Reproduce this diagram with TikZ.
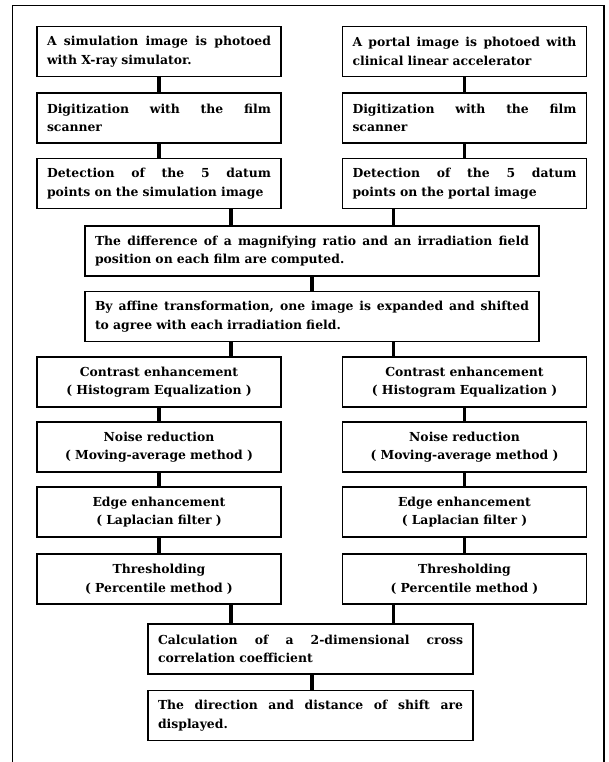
\documentclass[tikz,border=0pt]{standalone}
\usepackage{fontspec}
\setmainfont{DejaVu Serif}
\newcommand{\jl}[2][224pt]{\hbox to #1{\spaceskip=\fontdimen2\font plus 1fil\relax #2}}
\begin{document}
\begin{tikzpicture}[x=1pt,y=-1pt,
  box/.style={draw,line width=1.6pt,inner xsep=10pt,inner ysep=0pt,
    minimum height=50pt,font=\fontsize{12.4}{18.5}\selectfont\bfseries},
  sidebox/.style={box,text width=224pt,align=left},
  cbox/.style={box,text width=224pt,align=center},
  midbox/.style={box,text width=434pt,align=left},
  lowbox/.style={box,text width=305pt,align=left},
  conn/.style={line width=3.6pt},
  frame/.style={line width=1.2pt}]
\useasboundingbox (0,0) rectangle (609,762);
\draw[frame] (12.5,762) -- (12.5,5.5) -- (604,5.5) -- (604,762);

\node[sidebox] (L1) at (159,51.5) {\jl{A simulation image is photoed}\\with X-ray simulator.};
\node[sidebox] (R1) at (464.5,51.5) {\jl{A portal image is photoed with}\\clinical linear accelerator};
\node[sidebox] (L2) at (159,118) {\jl{Digitization with the film}\\scanner};
\node[sidebox] (R2) at (464.5,118) {\jl{Digitization with the film}\\scanner};
\node[sidebox] (L3) at (159,183.5) {\jl{Detection of the 5 datum}\\\mbox{points on the simulation image}};
\node[sidebox] (R3) at (464.5,183.5) {\jl{Detection of the 5 datum}\\points on the portal image};
\node[midbox] (M1) at (312,251) {\jl[434pt]{The difference of a magnifying ratio and an irradiation field}\\position on each film are computed.};
\node[midbox] (M2) at (312,316.5) {\jl[434pt]{By affine transformation, one image is expanded and shifted}\\to agree with each irradiation field.};
\node[cbox] (L4) at (159,382) {Contrast enhancement\\( Histogram Equalization )};
\node[cbox] (R4) at (464.5,382) {Contrast enhancement\\( Histogram Equalization )};
\node[cbox] (L5) at (159,447) {Noise reduction\\( Moving-average method )};
\node[cbox] (R5) at (464.5,447) {Noise reduction\\( Moving-average method )};
\node[cbox] (L6) at (159,512) {Edge enhancement\\( Laplacian filter )};
\node[cbox] (R6) at (464.5,512) {Edge enhancement\\( Laplacian filter )};
\node[cbox] (L7) at (159,579) {Thresholding\\( Percentile method )};
\node[cbox] (R7) at (464.5,579) {Thresholding\\( Percentile method )};
\node[lowbox] (C1) at (310.5,649) {\jl[305pt]{Calculation of a 2-dimensional cross}\\correlation coefficient};
\node[lowbox] (C2) at (310.5,715.5) {\jl[305pt]{The direction and distance of shift are}\\displayed.};

\coordinate (jl) at (231,0);
\coordinate (jr) at (393.5,0);
\coordinate (jm) at (312,0);

\draw[conn] (L1) -- (L2);
\draw[conn] (L2) -- (L3);
\draw[conn] (R1) -- (R2);
\draw[conn] (R2) -- (R3);
\draw[conn] (L3.south -| jl) -- (M1.north -| jl);
\draw[conn] (R3.south -| jr) -- (M1.north -| jr);
\draw[conn] (M1.south -| jm) -- (M2.north -| jm);
\draw[conn] (M2.south -| jl) -- (L4.north -| jl);
\draw[conn] (M2.south -| jr) -- (R4.north -| jr);
\draw[conn] (L4) -- (L5);
\draw[conn] (L5) -- (L6);
\draw[conn] (L6) -- (L7);
\draw[conn] (R4) -- (R5);
\draw[conn] (R5) -- (R6);
\draw[conn] (R6) -- (R7);
\draw[conn] (L7.south -| jl) -- (C1.north -| jl);
\draw[conn] (R7.south -| jr) -- (C1.north -| jr);
\draw[conn] (C1.south -| jm) -- (C2.north -| jm);
\end{tikzpicture}
\end{document}
